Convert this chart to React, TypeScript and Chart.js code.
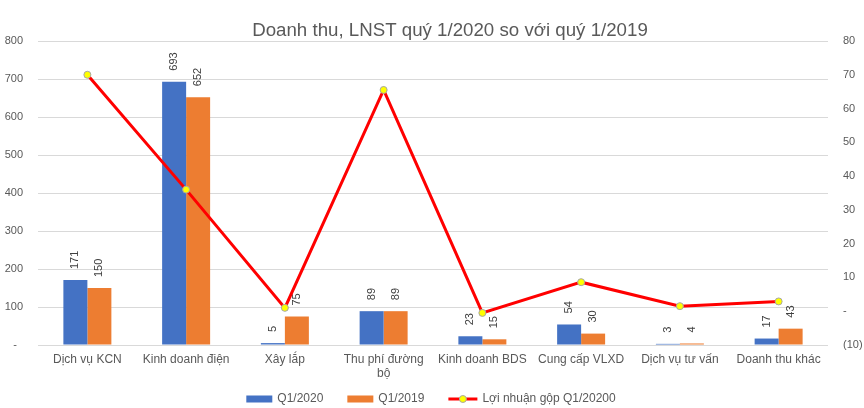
import React, { useEffect, useRef } from 'react';
import { Chart, registerables } from 'chart.js';

Chart.register(...registerables);

const chartTitle = 'Doanh thu, LNST quý 1/2020 so với quý 1/2019';
const categories: (string | string[])[] = [
  'Dịch vụ KCN',
  'Kinh doanh điện',
  'Xây lắp',
  ['Thu phí đường', 'bộ'],
  'Kinh doanh BDS',
  'Cung cấp VLXD',
  'Dịch vụ tư vấn',
  'Doanh thu khác',
];
const seriesNames = ['Q1/2020', 'Q1/2019', 'Lợi nhuận gộp Q1/20200'];
const revenueQ12020 = [171, 693, 5, 89, 23, 54, 3, 17];
const revenueQ12019 = [150, 652, 75, 89, 15, 30, 4, 43];
const grossProfitQ12020 = [70, 36, 1, 65.5, -0.5, 8.6, 1.5, 2.9];
const leftAxis = { min: 0, max: 800, step: 100 };
const rightAxis = { min: -10, max: 80, step: 10 };

const FONT = '"Liberation Sans", Arial, sans-serif';
const TEXT = '#595959';
const BLUE = '#4472C4';
const ORANGE = '#ED7D31';
const RED = '#FF0000';
const YELLOW = '#FFFF00';

const barLabels = {
  id: 'barLabels',
  afterDatasetDraw(chart: any, args: any) {
    const ds = chart.data.datasets[args.index];
    if (ds.type !== 'bar') return;
    const ctx = chart.ctx;
    ctx.save();
    ctx.font = `11px ${FONT}`;
    ctx.fillStyle = '#404040';
    ctx.textAlign = 'left';
    ctx.textBaseline = 'middle';
    args.meta.data.forEach((el: any, i: number) => {
      const { x, y } = el.getProps(['x', 'y'], true);
      ctx.save();
      ctx.translate(x, y - 11);
      ctx.rotate(-Math.PI / 2);
      ctx.fillText(String(ds.data[i]), 0, 0);
      ctx.restore();
    });
    ctx.restore();
  },
};

const titleAndLegend = {
  id: 'titleAndLegend',
  afterDraw(chart: any) {
    const ctx = chart.ctx;
    ctx.save();
    ctx.font = `18.7px ${FONT}`;
    ctx.fillStyle = TEXT;
    ctx.textAlign = 'center';
    ctx.textBaseline = 'middle';
    ctx.fillText(chartTitle, 450, 31);

    ctx.font = `12px ${FONT}`;
    const items = chart.data.datasets.map((ds: any) => ({
      text: ds.label,
      type: ds.type,
      color: ds.type === 'bar' ? ds.backgroundColor : ds.borderColor,
      sym: ds.type === 'bar' ? 26 : 29,
    }));
    const gapSym = 5;
    const gapItem = 24;
    let total = 0;
    items.forEach((it: any, i: number) => {
      it.w = ctx.measureText(it.text).width;
      total += it.sym + gapSym + it.w + (i < items.length - 1 ? gapItem : 0);
    });
    let x = 431 - total / 2;
    const y = 399;
    ctx.textAlign = 'left';
    items.forEach((it: any) => {
      if (it.type === 'bar') {
        ctx.fillStyle = it.color;
        ctx.fillRect(x, y - 3.5, it.sym, 7);
      } else {
        ctx.strokeStyle = it.color;
        ctx.lineWidth = 3;
        ctx.beginPath();
        ctx.moveTo(x, y);
        ctx.lineTo(x + it.sym, y);
        ctx.stroke();
        ctx.beginPath();
        ctx.arc(x + it.sym / 2, y, 3.5, 0, Math.PI * 2);
        ctx.fillStyle = YELLOW;
        ctx.fill();
        ctx.lineWidth = 1;
        ctx.strokeStyle = '#A6A6A6';
        ctx.stroke();
      }
      x += it.sym + gapSym;
      ctx.fillStyle = TEXT;
      ctx.fillText(it.text, x, y);
      x += it.w + gapItem;
    });
    ctx.restore();
  },
};

export default function App() {
  const ref = useRef<HTMLCanvasElement | null>(null);

  useEffect(() => {
    document.body.style.margin = '0';
    const canvas = ref.current;
    if (!canvas) return;
    const chart = new Chart(canvas, {
      type: 'bar',
      data: {
        labels: categories as any,
        datasets: [
          {
            type: 'bar',
            label: seriesNames[0],
            data: revenueQ12020,
            backgroundColor: BLUE,
            yAxisID: 'y',
            order: 1,
            barPercentage: 1,
            categoryPercentage: 0.486,
          },
          {
            type: 'bar',
            label: seriesNames[1],
            data: revenueQ12019,
            backgroundColor: ORANGE,
            yAxisID: 'y',
            order: 1,
            barPercentage: 1,
            categoryPercentage: 0.486,
          },
          {
            type: 'line',
            label: seriesNames[2],
            data: grossProfitQ12020,
            borderColor: RED,
            backgroundColor: RED,
            borderWidth: 3,
            tension: 0,
            pointRadius: 3.5,
            pointBackgroundColor: YELLOW,
            pointBorderColor: '#A6A6A6',
            pointBorderWidth: 1,
            yAxisID: 'y1',
            order: 0,
          } as any,
        ],
      },
      options: {
        responsive: false,
        animation: false,
        layout: { padding: { top: 41, left: 5, right: 1, bottom: 29 } },
        plugins: {
          legend: { display: false },
          title: { display: false },
          tooltip: { enabled: false },
        },
        scales: {
          x: {
            grid: { display: false, drawTicks: false },
            border: { display: false },
            afterFit: (s: any) => { s.height = 34; },
            ticks: {
              color: TEXT,
              font: { family: FONT, size: 12 },
              padding: 7,
              maxRotation: 0,
              autoSkip: false,
            },
          },
          y: {
            position: 'left',
            min: leftAxis.min,
            max: leftAxis.max,
            grid: { color: '#D9D9D9', lineWidth: 1, drawTicks: false },
            border: { display: false },
            afterFit: (s: any) => { s.width = 33; },
            ticks: {
              stepSize: leftAxis.step,
              color: TEXT,
              font: { family: FONT, size: 11 },
              padding: 15,
              callback: (v: any) => (Number(v) === 0 ? '-  ' : String(v)),
            },
          },
          y1: {
            position: 'right',
            min: rightAxis.min,
            max: rightAxis.max,
            grid: { display: false, drawTicks: false },
            border: { display: false },
            afterFit: (s: any) => { s.width = 35; },
            ticks: {
              stepSize: rightAxis.step,
              color: TEXT,
              font: { family: FONT, size: 11 },
              padding: 15,
              callback: (v: any) => {
                const n = Number(v);
                if (n === 0) return '-';
                if (n < 0) return `(${Math.abs(n)})`;
                return String(n);
              },
            },
          },
        },
      },
      plugins: [barLabels, titleAndLegend],
    });
    return () => chart.destroy();
  }, []);

  return (
    <div style={{ width: 864, height: 408 }}>
      <canvas ref={ref} width={864} height={408} />
    </div>
  );
}
